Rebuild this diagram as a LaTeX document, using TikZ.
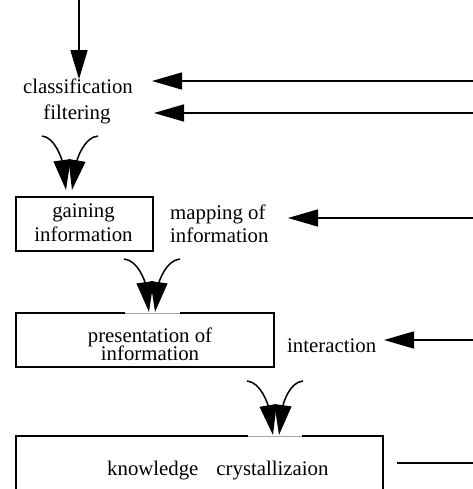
\documentclass[tikz,border=0pt]{standalone}
\usepackage{fontspec}
\setmainfont{Liberation Serif}
\usetikzlibrary{arrows.meta}
\setlength{\lineskiplimit}{-100pt}
\begin{document}
\begin{tikzpicture}[x=1bp,y=-1bp,
  txt/.style={font=\fontsize{20.8bp}{23bp}\selectfont, inner sep=0pt},
  box/.style={draw, line width=1.6bp, rectangle, inner sep=0pt},
  harrow/.style={line width=1.5bp, -{Triangle[length=30bp,width=17bp]}},
  varrow/.style={line width=1.5bp, -{Triangle[length=29bp,width=17bp]}},
  curvy/.style={line width=1.5bp, -{Triangle[length=30bp,width=17bp]}},
  plainline/.style={line width=1.5bp},
  faint/.style={gray!70, line width=1bp}]
\clip (0,0) rectangle (473,489);
\useasboundingbox (0,0) rectangle (473,489);

% text and boxes
\node[txt, anchor=base] (cls) at (78,94) {classification};
\node[txt, anchor=base] (filt) at (77,120) {filtering};

\node[box, minimum width=137bp, minimum height=54bp] (gain) at (84.5,224) {};
\node[txt, align=center, font=\fontsize{20.8bp}{24bp}\selectfont] (gaint) at (83.5,223) {gaining\\information};
\node[txt, anchor=west, align=left] (map) at (170,223.5) {mapping of\\information};

\node[box, minimum width=258bp, minimum height=54bp] (pres) at (145,340) {};
\node[txt, align=center, font=\fontsize{20.8bp}{17.5bp}\selectfont] (prest) at (150,344.4) {presentation of\\information};
\node[txt, anchor=base west] (inter) at (287,352) {interaction};

\node[box, minimum width=367bp, minimum height=90bp] (know) at (199.5,481) {};
\node[txt, anchor=base west] (kc) at (107,475) {knowledge\hspace{18bp}crystallizaion};

% faint stretches of the box tops under the merging arrows
\draw[white, line width=2bp] (125,313) -- (180,313);
\draw[faint] (125,313) -- (180,313);
\draw[white, line width=2bp] (248,436) -- (302,436);
\draw[faint] (248,436) -- (302,436);

% incoming arrows
\coordinate (topin) at (79,0);
\draw[varrow] (topin) -- (cls.north -| topin);

\coordinate (r1) at (474,81);  \coordinate (t1) at (152,81);
\coordinate (r2) at (474,113); \coordinate (t2) at (154,113);
\coordinate (r3) at (474,218); \coordinate (t3) at (288,218);
\coordinate (r4) at (474,340); \coordinate (t4) at (384,340);
\coordinate (r5) at (474,463); \coordinate (t5) at (397,463);
\draw[harrow] (r1) -- (t1);
\draw[harrow] (r2) -- (t2);
\draw[harrow] (r3) -- (t3);
\draw[harrow] (r4) -- (t4);
\draw[plainline] (r5) -- (t5);

% merging arrow pairs
\coordinate (a1l) at (42,136);  \coordinate (e1l) at (66,190);
\coordinate (a1r) at (98,136);  \coordinate (e1r) at (72,190);
\draw[curvy] (a1l) .. controls (55,137) and (62,160) .. (e1l);
\draw[curvy] (a1r) .. controls (84,137) and (77,160) .. (e1r);

\coordinate (a2l) at (124,259); \coordinate (e2l) at (149,312);
\coordinate (a2r) at (180,259); \coordinate (e2r) at (155,312);
\draw[curvy] (a2l) .. controls (138,260) and (145,282) .. (e2l);
\draw[curvy] (a2r) .. controls (166,260) and (159,282) .. (e2r);

\coordinate (a3l) at (247,381); \coordinate (e3l) at (273,435);
\coordinate (a3r) at (303,381); \coordinate (e3r) at (279,435);
\draw[curvy] (a3l) .. controls (261,382) and (268,405) .. (e3l);
\draw[curvy] (a3r) .. controls (289,382) and (283,405) .. (e3r);
\end{tikzpicture}
\end{document}
